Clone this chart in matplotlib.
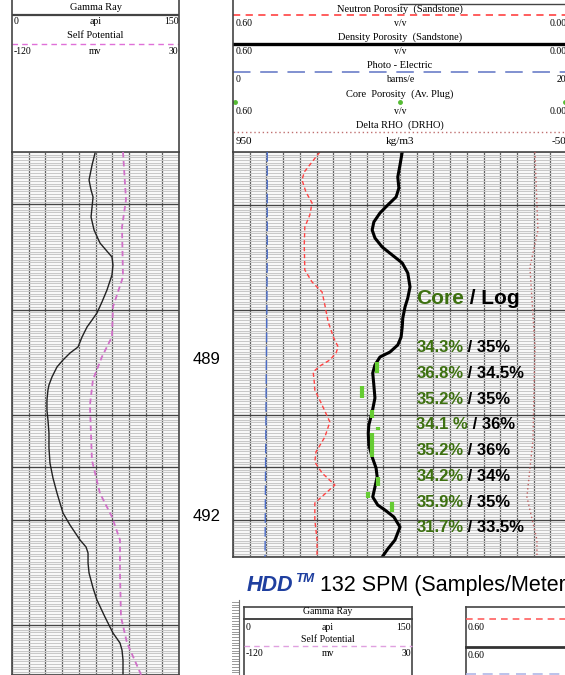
import numpy as np
import matplotlib
matplotlib.use('Agg')
import matplotlib.pyplot as plt

plt.rcParams['font.family'] = ['Liberation Sans', 'DejaVu Sans']

W, H = 565, 675
top_depth = 485.0
px_per_m = 52.5

# left track: gamma ray (api) and self potential (mv)
gr_depth = [485.019, 485.248, 485.533, 485.724, 485.857, 486.048, 486.238, 486.486, 486.733, 486.867,
            487.0, 487.152, 487.343, 487.629, 487.857, 488.067, 488.2, 488.333, 488.524, 488.714,
            488.829, 488.962, 489.095, 489.286, 489.438, 489.533, 489.724, 489.914, 490.105, 490.352,
            490.638, 490.924, 491.21, 491.495, 491.686, 491.876, 492.105, 492.39, 492.524, 492.638,
            492.829, 493.019, 493.305, 493.533, 493.857, 494.162, 494.352, 494.486, 494.676, 494.962]
gr_api = [74.6, 71.9, 69.2, 71.0, 72.8, 71.9, 71.0, 73.7, 79.0, 84.4, 89.8, 90.7, 89.8, 85.3, 80.8,
          76.3, 71.9, 67.4, 62.9, 59.3, 52.1, 45.8, 40.4, 35.9, 33.2, 32.3, 31.4, 31.4, 32.3, 33.2,
          33.2, 34.1, 36.8, 40.4, 43.1, 45.8, 52.1, 61.1, 66.5, 68.3, 68.3, 69.2, 72.8, 76.3, 83.5,
          90.7, 97.0, 98.8, 99.7, 99.7]
sp_depth = [485.0, 485.91, 486.43, 487.38, 487.95, 488.52, 488.9, 489.34, 489.82, 490.87, 491.5,
            491.95, 492.39, 493.02, 493.86, 494.35, 494.96]
sp_mv = [-20.3, -17.6, -21.2, -20.3, -29.3, -30.2, -39.2, -47.3, -50.0, -48.2, -41.0, -30.2, -23.0,
         -23.0, -22.1, -16.7, -4.0]

# right track: porosities (v/v), PEF (barns/e), DRHO (kg/m3)
nphi_depth = [485.0, 485.19, 485.381, 485.533, 485.762, 485.971, 486.2, 486.429, 486.771, 487.248,
              487.476, 487.667, 487.914, 488.238, 488.543, 488.714, 488.829, 488.962, 489.076, 489.19,
              489.381, 489.533, 489.819, 490.143, 490.429, 490.714, 490.905, 491.114, 491.343, 491.514,
              491.686, 492.01, 492.39, 492.714]
nphi = [0.444, 0.458, 0.472, 0.476, 0.469, 0.458, 0.462, 0.471, 0.472, 0.471, 0.458, 0.440, 0.435,
        0.429, 0.419, 0.411, 0.415, 0.426, 0.444, 0.456, 0.454, 0.453, 0.440, 0.426, 0.435, 0.451,
        0.453, 0.440, 0.417, 0.435, 0.453, 0.453, 0.449, 0.449]
dphi_depth = [485.0, 485.248, 485.476, 485.686, 485.857, 486.01, 486.162, 486.333, 486.486, 486.638,
              486.81, 486.962, 487.114, 487.305, 487.571, 487.781, 487.952, 488.162, 488.333, 488.524,
              488.676, 488.81, 488.905, 489.057, 489.21, 489.438, 489.686, 489.952, 490.2, 490.352,
              490.581, 490.81, 491.019, 491.19, 491.381, 491.571, 491.724, 491.819, 491.952, 492.143,
              492.39, 492.562, 492.714]
dphi = [0.296, 0.300, 0.304, 0.302, 0.307, 0.322, 0.336, 0.347, 0.350, 0.345, 0.332, 0.314, 0.296,
        0.286, 0.282, 0.286, 0.291, 0.295, 0.296, 0.298, 0.304, 0.318, 0.336, 0.345, 0.349, 0.347,
        0.345, 0.350, 0.356, 0.357, 0.356, 0.350, 0.343, 0.341, 0.345, 0.349, 0.340, 0.327, 0.311,
        0.300, 0.309, 0.322, 0.332]
pef_depth = [485.0, 487.0, 489.0, 491.0, 492.71]
pef = [2.05, 2.05, 2.0, 1.95, 1.92]
drho_depth = [485.0, 486.49, 487.19, 488.71, 490.49, 491.57, 492.39, 492.71]
drho = [46, 37, 61, 46, 52, 70, 40, 40]

# core plugs
core_depth = [489.10, 489.57, 489.99, 490.26, 490.58, 491.27, 491.53, 491.76]
core_len = [0.21, 0.23, 0.15, 0.06, 0.46, 0.17, 0.11, 0.19]
core_phi = [0.341, 0.368, 0.350, 0.340, 0.350, 0.340, 0.357, 0.314]
core_pct = ['34.3%', '36.8%', '35.2%', '34.1 %', '35.2%', '34.2%', '35.9%', '31.7%']
log_pct = ['35%', '34.5%', '35%', '36%', '36%', '34%', '35%', '33.5%']

depth_labels = [489, 492]
major_depths = [486, 488, 490, 491, 492, 494]

green_txt = '#3d7010'
green_core = '#66cc33'
serif = 'Liberation Serif'


def px_rect(x0, y0, w, h):
    return [x0 / W, 1 - (y0 + h) / H, w / W, h / H]


def style_track(ax, xt):
    ax.set_xticks(xt)
    ax.set_yticks(major_depths)
    ax.set_yticks(np.arange(485, 495.01, 0.05), minor=True)
    ax.tick_params(which='both', length=0, labelleft=False, labelbottom=False)
    ax.xaxis.grid(True, color='#555555', lw=0.9)
    ax.yaxis.grid(True, which='major', color='#444444', lw=1.0)
    ax.yaxis.grid(True, which='minor', color='#c8c8c8', lw=0.9)
    ax.set_axisbelow(True)
    for s in ax.spines.values():
        s.set_color('#444444')
        s.set_linewidth(1.2)


def header_axes(x0, w):
    hx = fig.add_axes(px_rect(x0, 0, w, 152))
    hx.set_xlim(0, 1)
    hx.set_ylim(152, 0)
    hx.set_xticks([])
    hx.set_yticks([])
    hx.patch.set_alpha(0)
    hx.spines['top'].set_visible(False)
    hx.spines['bottom'].set_visible(False)
    for s in ['left', 'right']:
        hx.spines[s].set_color('#444444')
        hx.spines[s].set_linewidth(1.2)
    return hx


def scale_row(ax, y, left, mid, right, size=7, x0=0.008, x1=0.998, xm=0.5):
    ax.text(x0, y, left, ha='left', va='center', fontsize=size, family=serif, clip_on=False)
    ax.text(xm, y, mid, ha='center', va='center', fontsize=size, family=serif)
    ax.text(x1, y, right, ha='right', va='center', fontsize=size, family=serif)


fig = plt.figure(figsize=(W / 100, H / 100), dpi=100)

# ---- left track
ax_l = fig.add_axes(px_rect(12, 152, 167, 523))
style_track(ax_l, np.linspace(0, 150, 11))
ax_l.set_xlim(0, 150)
ax_l.plot(gr_api, gr_depth, color='#222222', lw=1.0, solid_joinstyle='round')
ax_sp = ax_l.twiny()
ax_sp.set_xlim(-120, 30)
ax_sp.axis('off')
ax_sp.plot(sp_mv, sp_depth, color='#d070c8', lw=1.3, dashes=(3, 2))
ax_l.set_ylim(top_depth + 523 / px_per_m, top_depth)

# ---- right track
ax_r = fig.add_axes(px_rect(233, 152, 334, 405))
style_track(ax_r, np.linspace(0, 0.60, 21))
ax_r.set_xlim(0.60, 0.0)
ax_pe = ax_r.twiny()
ax_pe.set_xlim(0, 20)
ax_pe.axis('off')
ax_pe.plot(pef, pef_depth, color='#4a6cc8', lw=1.0, dashes=(7, 3))
ax_dr = ax_r.twiny()
ax_dr.set_xlim(950, -50)
ax_dr.axis('off')
ax_dr.plot(drho, drho_depth, color='#c06060', lw=1.0, dashes=(1, 2))
ax_r.plot(nphi, nphi_depth, color='#ff4444', lw=1.0, dashes=(3, 2))
ax_r.plot(dphi, dphi_depth, color='black', lw=2.2, solid_joinstyle='round')
cd = np.array(core_depth)
cl = np.array(core_len)
ax_r.vlines(core_phi, cd - cl / 2, cd + cl / 2, color=green_core, lw=3)
ax_r.set_ylim(top_depth + 405 / px_per_m, top_depth)

# core / log annotation
x_txt = 0.271
t = ax_r.text(x_txt, 487.895, 'Core', color=green_txt, fontsize=15, fontweight='bold', va='baseline')
ax_r.annotate(' / Log', xy=(1, 487.895), xycoords=(t, 'data'), fontsize=15, fontweight='bold',
              va='baseline', annotation_clip=False)
for i, (c, l) in enumerate(zip(core_pct, log_pct)):
    yb = 488.81 + i * 0.4905
    t = ax_r.text(x_txt, yb, c, color=green_txt, fontsize=12, fontweight='bold', va='baseline')
    ax_r.annotate(' / ' + l, xy=(1, yb), xycoords=(t, 'data'), fontsize=12, fontweight='bold',
                  va='baseline', annotation_clip=False)

# depth labels between the tracks
tr = matplotlib.transforms.blended_transform_factory(fig.transFigure, ax_r.transData)
for d in depth_labels:
    fig.text(207 / W, d + 0.03, str(d), transform=tr, ha='center', va='baseline', fontsize=12)

# ---- headers
hl = header_axes(12, 167)
hl.text(0.5, 7, 'Gamma Ray', ha='center', va='center', fontsize=7.5, family=serif)
hl.plot([0, 1], [15, 15], color='#444444', lw=1.6)
scale_row(hl, 22, '0', 'api', '150')
hl.text(0.5, 36, 'Self Potential', ha='center', va='center', fontsize=7.5, family=serif)
hl.plot([0, 1], [44, 44], color='#e070d8', lw=1.0, dashes=(4, 3))
scale_row(hl, 51, '-120', 'mv', '30')

hr = header_axes(233, 334)
hr.plot([0.5, 1], [4, 4], color='#444444', lw=1.0)
hr.text(0.5, 9.5, 'Neutron Porosity  (Sandstone)', ha='center', va='center', fontsize=7.5, family=serif)
hr.plot([0, 1], [15, 15], color='#ff5050', lw=1.3, dashes=(4, 3))
scale_row(hr, 23, '0.60', 'v/v', '0.00')
hr.text(0.5, 37, 'Density Porosity  (Sandstone)', ha='center', va='center', fontsize=7.5, family=serif)
hr.plot([0, 1], [44, 44], color='black', lw=2.4)
scale_row(hr, 51, '0.60', 'v/v', '0.00')
hr.text(0.5, 65, 'Photo - Electric', ha='center', va='center', fontsize=7.5, family=serif)
hr.plot([0, 1], [72, 72], color='#8090d0', lw=1.4, dashes=(9, 5))
scale_row(hr, 79, '0', 'barns/e', '20')
hr.text(0.5, 94, 'Core  Porosity  (Av. Plug)', ha='center', va='center', fontsize=7.5, family=serif)
hr.plot([0.005, 0.5, 0.995], [102, 102, 102], ls='none', marker='o', ms=2.5, color='#55bb33')
scale_row(hr, 111, '0.60', 'v/v', '0.00')
hr.text(0.5, 125, 'Delta RHO  (DRHO)', ha='center', va='center', fontsize=7.5, family=serif)
hr.plot([0, 1], [132, 132], color='#c07070', lw=1.0, dashes=(1, 2))
scale_row(hr, 141, '950', 'kg/m3', '-50', size=8)

# ---- caption
yb = 1 - 591 / H
hdd = fig.text(247 / W, yb, 'HDD', color='#1f3f9f', fontsize=15.5, fontweight='bold', style='italic',
               va='baseline')
tm = fig.text(0, yb + 0.013, 'TM', color='#1f3f9f', fontsize=9.5, fontweight='bold', style='italic',
              va='baseline')
fig.canvas.draw()
bb = hdd.get_window_extent()
tm.set_x(bb.x1 / W + 0.002)
bb2 = tm.get_window_extent()
fig.text(bb2.x1 / W, yb, ' 132 SPM (Samples/Meter)', fontsize=15.5, va='baseline')

# ---- thumbnail of the next log header
bp = fig.add_axes([0, 0, 1, 1])
bp.set_xlim(0, W)
bp.set_ylim(H, 0)
bp.axis('off')
bp.patch.set_alpha(0)
for yy in np.arange(602, 676, 2.7):
    bp.plot([232, 239], [yy, yy], color='#999999', lw=0.7)
bp.plot([239, 239], [600, 675], color='#777777', lw=0.8)
bp.plot([244, 412], [607, 607], color='#444444', lw=1.2)
bp.plot([244, 244], [607, 675], color='#444444', lw=1.2)
bp.plot([412, 412], [607, 675], color='#444444', lw=1.2)
bp.plot([466, 466], [607, 675], color='#444444', lw=1.2)
bp.plot([466, 565], [607, 607], color='#444444', lw=1.2)
bp.text(328, 612, 'Gamma Ray', ha='center', va='center', fontsize=7, family=serif)
bp.plot([244, 412], [619, 619], color='#444444', lw=1.4)
bp.text(246, 627, '0', ha='left', va='center', fontsize=7, family=serif)
bp.text(328, 627, 'api', ha='center', va='center', fontsize=7, family=serif)
bp.text(411, 627, '150', ha='right', va='center', fontsize=7, family=serif)
bp.text(328, 639, 'Self Potential', ha='center', va='center', fontsize=7, family=serif)
bp.plot([244, 412], [646, 646], color='#e0a0e0', lw=1.0, dashes=(4, 3))
bp.text(246, 654, '-120', ha='left', va='center', fontsize=7, family=serif)
bp.text(328, 654, 'mv', ha='center', va='center', fontsize=7, family=serif)
bp.text(411, 654, '30', ha='right', va='center', fontsize=7, family=serif)
bp.plot([466, 565], [619, 619], color='#ff6060', lw=1.2, dashes=(4, 3))
bp.text(468, 627, '0.60', ha='left', va='center', fontsize=7, family=serif)
bp.plot([466, 565], [647, 647], color='#333333', lw=2.0)
bp.text(468, 655, '0.60', ha='left', va='center', fontsize=7, family=serif)
bp.plot([466, 565], [674, 674], color='#b0b8e8', lw=1.2, dashes=(6, 4))

fig.savefig('out.png', dpi=100)
